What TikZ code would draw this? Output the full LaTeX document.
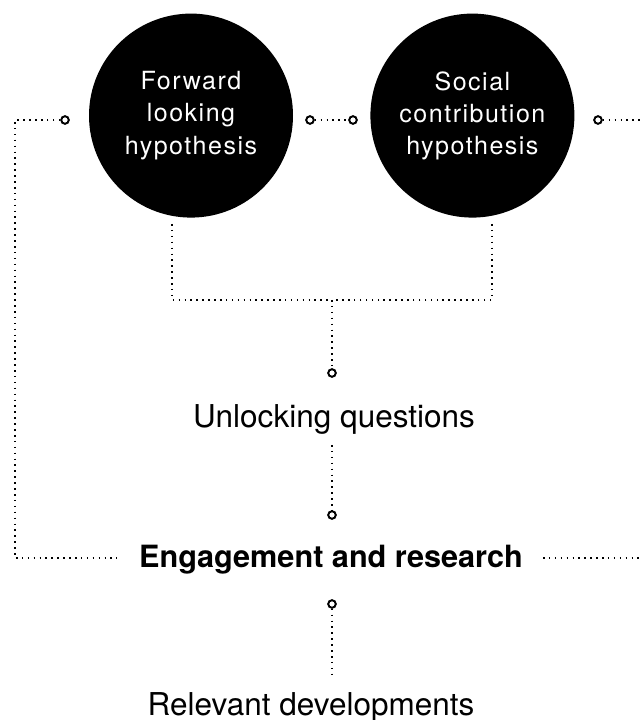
\documentclass[tikz,border=0pt]{standalone}
\usepackage{fontspec}
\setmainfont{TeX Gyre Heros}
\newfontfamily\hypfont[LetterSpace=6]{TeX Gyre Heros}
\usepackage{tikz}

\begin{document}
\begin{tikzpicture}[
    hyp/.style={fill=black,circle,minimum size=5.1cm,inner sep=0pt,text=white,align=center,font=\hypfont\fontsize{17.8pt}{22.8pt}\selectfont},
    ring/.style={draw=black,circle,line width=1.4pt,minimum size=0.19cm,inner sep=0pt,fill=white},
    dots/.style={black,line width=1.3pt,dash pattern=on 1.1pt off 3.1pt},
    lbl/.style={anchor=base,inner sep=0pt,font=\fontsize{22.4pt}{26pt}\selectfont}]

    \useasboundingbox (0,0) rectangle (16.025,18);

    \node[hyp] (a) at (4.775,15.11){Forward\\looking\\hypothesis};
    \node[hyp] (b) at (11.81,15.11){Social\\contribution\\hypothesis};

    \node[ring] (r1) at (1.625,15){};
    \node[ring] (r2) at (7.75,15){};
    \node[ring] (r3) at (8.825,15){};
    \node[ring] (r4) at (14.95,15){};
    \node[ring] (r5) at (8.3,8.675){};
    \node[ring] (r6) at (8.3,5.125){};
    \node[ring] (r7) at (8.3,2.9){};

    \node[lbl] (q) at (8.35,7.3){Unlocking questions};
    \node[lbl,font=\bfseries\fontsize{21.8pt}{26pt}\selectfont] (e) at (8.275,3.825){Engagement and research};
    \node[lbl] (d) at (7.775,0.125){Relevant developments};

    \coordinate (lt) at (0.375,15);
    \coordinate (lb) at (0.375,4.05);
    \coordinate (le) at (2.925,4.05);
    \coordinate (rs) at (13.575,4.05);
    \coordinate (re) at (16.025,4.05);
    \coordinate (te) at (16.025,15);
    \coordinate (ba) at (4.3,12.4);
    \coordinate (bb) at (12.3,12.4);
    \coordinate (bm) at (8.3,10.5);
    \coordinate (qt) at (8.3,6.875);
    \coordinate (de) at (8.3,1.125);

    \draw[dots] (r1)--(lt)--(lb)--(le) (rs)--(re) (r4)--(te) (r2)--(r3);
    \draw[dots] (ba)|-(bm) (bb)|-(bm) (bm)--(r5) (qt)--(r6) (r7)--(de);

\end{tikzpicture}
\end{document}
